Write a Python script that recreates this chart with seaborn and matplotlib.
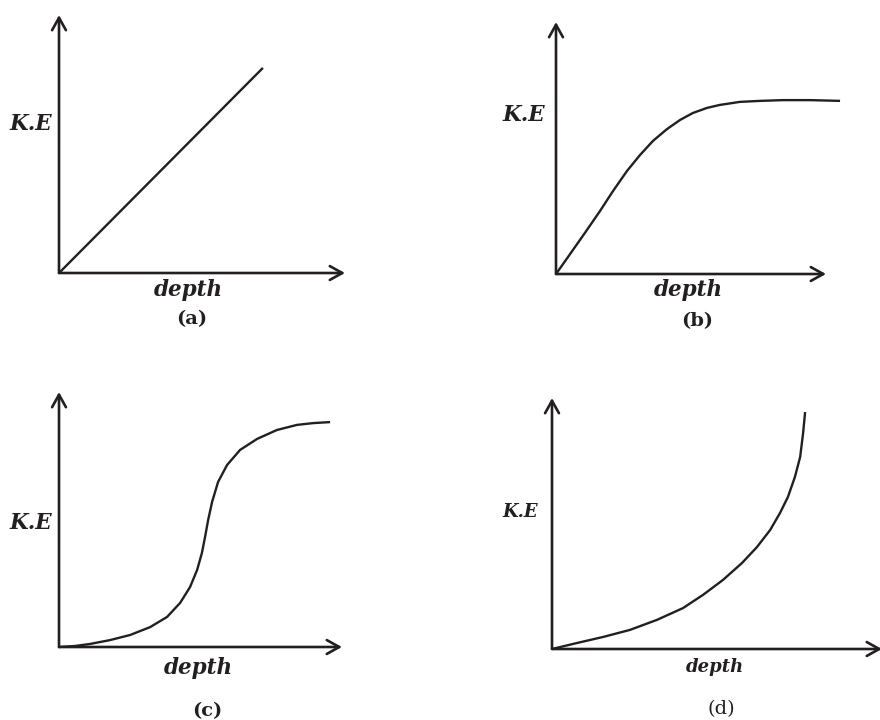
import matplotlib
matplotlib.use("Agg")
import matplotlib.pyplot as plt
import seaborn as sns
import pandas as pd

# depth (x) and kinetic energy (y), axis arrow tip = 10
a_depth = [0.0, 7.13]
a_ke = [0.0, 7.95]

b_depth = [0.0, 0.52, 1.07, 1.63, 2.11, 2.63, 3.11, 3.59, 4.11, 4.59, 5.07, 5.59,
           6.07, 6.81, 7.56, 8.41, 9.41, 10.52]
b_ke = [0.0, 0.79, 1.63, 2.50, 3.29, 4.09, 4.72, 5.28, 5.75, 6.11, 6.39, 6.59,
        6.71, 6.83, 6.87, 6.90, 6.90, 6.87]

c_depth = [0.0, 0.57, 1.10, 1.80, 2.51, 3.22, 3.82, 4.28, 4.63, 4.88, 5.05, 5.16,
           5.27, 5.41, 5.62, 5.94, 6.40, 7.00, 7.70, 8.41, 8.98, 9.58]
c_ke = [0.0, 0.04, 0.12, 0.27, 0.47, 0.78, 1.18, 1.73, 2.35, 3.02, 3.69, 4.31,
        4.98, 5.69, 6.47, 7.14, 7.73, 8.16, 8.51, 8.71, 8.78, 8.82]

d_depth = [0.0, 0.76, 1.55, 2.36, 3.18, 3.97, 4.58, 5.18, 5.76, 6.21, 6.61, 6.91,
           7.15, 7.36, 7.52, 7.61, 7.67]
d_ke = [0.0, 0.24, 0.48, 0.76, 1.16, 1.63, 2.16, 2.75, 3.43, 4.06, 4.74, 5.42,
        6.06, 6.85, 7.65, 8.61, 9.44]

panel_tags = ["(a)", "(b)", "(c)", "(d)"]
x_label = "depth"
y_label = "K.E"

INK = "#231f20"

sns.set_theme(style="white")
plt.rcParams['font.family'] = ['DejaVu Serif']

fig = plt.figure(figsize=(8.8, 7.2), dpi=100)
fig.patch.set_facecolor("white")

# axes boxes in figure fractions (origin -> arrow tips)
boxes = [
    [0.06705, 0.62083, 0.32500, 0.35833],
    [0.63182, 0.61944, 0.30682, 0.35000],
    [0.06705, 0.10139, 0.32159, 0.35417],
    [0.62727, 0.09861, 0.37500, 0.34861],
]
curves = [(a_depth, a_ke), (b_depth, b_ke), (c_depth, c_ke), (d_depth, d_ke)]

# label anchors (figure fractions): K.E right edge, depth centre, tag centre
ke_pos = [(0.059, 0.828), (0.620, 0.840), (0.059, 0.274), (0.611, 0.289)]
depth_pos = [(0.214, 0.597), (0.782, 0.597), (0.225, 0.072), (0.812, 0.074)]
tag_pos = [(0.218, 0.557), (0.792, 0.554), (0.235, 0.012), (0.820, 0.015)]
lab_size = [15.5, 15.5, 15.5, 13.0]

for i, box in enumerate(boxes):
    ax = fig.add_axes(box)
    ax.set_xlim(0, 10)
    ax.set_ylim(0, 10)
    ax.set_axis_off()

    df = pd.DataFrame({"depth": curves[i][0], "ke": curves[i][1]})
    sns.lineplot(data=df, x="depth", y="ke", ax=ax, color=INK, linewidth=1.7,
                 sort=False, estimator=None, clip_on=False)
    for line in ax.lines:
        line.set_solid_capstyle("butt")
        line.set_solid_joinstyle("round")

    arrow = dict(arrowstyle="->,head_length=0.45,head_width=0.25", lw=1.9,
                 color=INK, shrinkA=0, shrinkB=0, mutation_scale=20)
    ax.annotate("", xy=(10, 0), xytext=(0, 0), arrowprops=arrow, annotation_clip=False)
    ax.annotate("", xy=(0, 10), xytext=(0, 0), arrowprops=arrow, annotation_clip=False)

    fig.text(ke_pos[i][0], ke_pos[i][1], y_label, ha="right", va="center",
             fontsize=lab_size[i], fontstyle="italic", fontweight="bold", color=INK)
    fig.text(depth_pos[i][0], depth_pos[i][1], x_label, ha="center", va="center",
             fontsize=lab_size[i], fontstyle="italic", fontweight="bold", color=INK)
    fig.text(tag_pos[i][0], tag_pos[i][1], panel_tags[i], ha="center", va="center",
             fontsize=14, fontweight="bold" if i < 3 else "normal", color=INK)

fig.savefig("out.png", dpi=100, facecolor="white")
